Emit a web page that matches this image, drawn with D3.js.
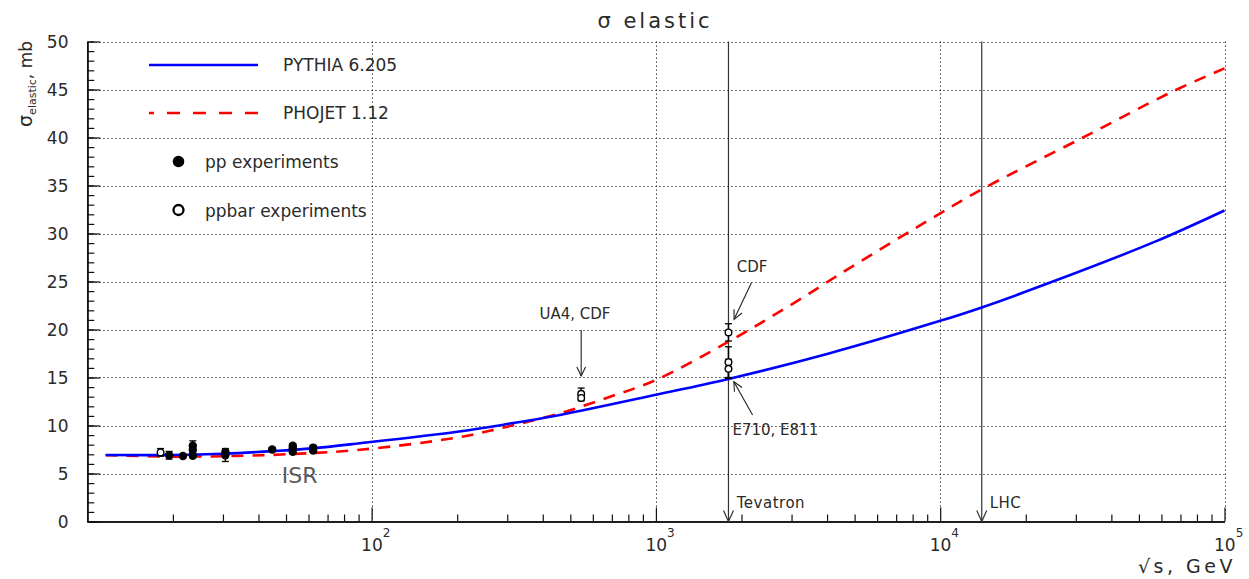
<!DOCTYPE html>
<html>
<head>
<meta charset="utf-8">
<script src="https://cdn.jsdelivr.net/npm/d3@7"></script>
<style>
  html, body { margin: 0; padding: 0; background: #fff; }
  svg { display: block; }
  text { font-family: "DejaVu Sans", sans-serif; fill: #2a2a2a; }
</style>
</head>
<body>
<svg id="chart" width="1249" height="579"></svg>
<script>
// ---------------- data ----------------
const xDomain = [10, 1e5];
const yDomain = [0, 50];
const yMajorTicks = [0, 5, 10, 15, 20, 25, 30, 35, 40, 45, 50];
const xDecades = [100, 1000, 10000, 100000];
const xTickLabels = ["2", "3", "4", "5"]; // exponents of 10

// PYTHIA 6.205 (solid blue)
const pythiaE   = [11.6, 20, 30, 45, 62, 91, 200, 300, 460, 1000, 1800, 4000, 10000, 14000, 26000, 57000, 100000];
const pythiaSig = [6.93, 6.93, 7.06, 7.33, 7.62, 8.15, 9.35, 10.15, 11.1, 13.2, 14.85, 17.45, 20.9, 22.3, 25.2, 29.15, 32.4];

// PHOJET 1.12 (dashed red)
const phojetE   = [11.6, 20, 30, 50, 91, 200, 300, 460, 690, 1000, 1800, 2960, 4800, 10000, 14000, 31800, 65800, 100000];
const phojetSig = [6.9, 6.76, 6.8, 7.0, 7.47, 8.75, 9.88, 11.27, 13.0, 14.74, 18.73, 22.5, 26.4, 32.1, 34.6, 40.0, 44.8, 47.2];

// pp experiments (filled)
const ppE   = [19.4, 21.7, 23.5, 23.5, 23.5, 30.6, 30.6, 44.7, 52.8, 52.8, 52.8, 62.3, 62.3];
const ppSig = [6.9, 6.82, 7.9, 7.45, 6.85, 7.25, 6.9, 7.5, 7.9, 7.6, 7.25, 7.7, 7.4];
const ppErr = [0.4, 0.15, 0.5, 0.3, 0.2, 0.35, 0.65, 0.2, 0.2, 0.2, 0.2, 0.2, 0.2];

// ppbar experiments (open)
const pbE   = [18.1, 546, 546, 1800, 1800, 1800];
const pbSig = [7.2, 13.3, 12.87, 19.7, 16.6, 15.9];
const pbErr = [0.4, 0.6, 0.3, 0.9, 1.6, 1.0];

// collider energies
const colliderNames = ["Tevatron", "LHC"];
const colliderE = [1800, 14000];
const colliderLabelE = [1925, 14930];

// annotations (data coordinates)
const annoText  = ["UA4, CDF", "CDF", "E710, E811"];
const annoTextE = [519, 1925, 1859];
const annoTextS = [21.1, 26.0, 9.0];
const annoTailE = [546, 2168, 2188];
const annoTailS = [19.95, 24.88, 11.09];
const annoTipE  = [546, 1884, 1880];
const annoTipS  = [15.15, 21.06, 14.56];

// ---------------- layout ----------------
const svg = d3.select("#chart");
const L = 87.3, R = 1224.5, T = 41.5, B = 521.5;
const x = d3.scaleLog().domain(xDomain).range([L, R]);
const y = d3.scaleLinear().domain(yDomain).range([B, T]);

// grid
const grid = svg.append("g").attr("stroke", "#222").attr("stroke-width", 1)
  .attr("stroke-dasharray", "1.3,2.7");
yMajorTicks.filter(v => v > 0).forEach(v => {
  grid.append("line").attr("x1", L).attr("x2", R).attr("y1", Math.round(y(v)) + 0.5).attr("y2", Math.round(y(v)) + 0.5);
});
xDecades.forEach(v => {
  grid.append("line").attr("x1", Math.round(x(v)) + 0.5).attr("x2", Math.round(x(v)) + 0.5).attr("y1", T).attr("y2", B);
});

// axes (ticks point inward)
const yMinor = d3.range(0, 51, 1);
const yAxisMinor = d3.axisLeft(y).tickValues(yMinor).tickSize(-7).tickFormat("").tickSizeOuter(0);
const yAxisMajor = d3.axisLeft(y).tickValues(yMajorTicks).tickSize(-13).tickFormat("").tickSizeOuter(0);
svg.append("g").attr("transform", `translate(${L},0)`).call(yAxisMinor);
svg.append("g").attr("transform", `translate(${L},0)`).call(yAxisMajor);

const xMinor = [];
[10, 100, 1000, 10000].forEach(d => { for (let k = 2; k <= 9; k++) xMinor.push(d * k); });
const xAxisMinor = d3.axisBottom(x).tickValues(xMinor).tickSize(-7).tickFormat("").tickSizeOuter(0);
const xAxisMajor = d3.axisBottom(x).tickValues(xDecades).tickSize(-14).tickFormat("").tickSizeOuter(0);
svg.append("g").attr("transform", `translate(0,${B})`).call(xAxisMinor);
svg.append("g").attr("transform", `translate(0,${B})`).call(xAxisMajor);
svg.selectAll(".domain").attr("stroke", "#111").attr("stroke-width", 1.6);
svg.selectAll(".tick line").attr("stroke", "#111").attr("stroke-width", 1.2);

// y tick labels
yMajorTicks.forEach(v => {
  svg.append("text").attr("x", 68.5).attr("y", y(v) + 6.5)
    .attr("text-anchor", "end").attr("font-size", 17).text(v);
});
// x tick labels 10^n
xDecades.forEach((v, i) => {
  const t = svg.append("text").attr("x", x(v) - 10.5).attr("y", 551).attr("font-size", 17);
  t.append("tspan").text("10");
  t.append("tspan").attr("dy", -14).attr("font-size", 12).text(xTickLabels[i]);
});

// title and axis titles
svg.append("text").attr("x", 655).attr("y", 28).attr("text-anchor", "middle")
  .attr("font-size", 21).attr("letter-spacing", 3).text("σ elastic");
svg.append("text").attr("x", 1236).attr("y", 573).attr("text-anchor", "end")
  .attr("font-size", 19).attr("letter-spacing", 3.5).text("√s, GeV");
const yl = svg.append("text").attr("transform", "translate(32,41) rotate(-90)")
  .attr("text-anchor", "end").attr("font-size", 17);
yl.append("tspan").attr("font-size", 19).text("σ");
yl.append("tspan").attr("font-size", 11).attr("dy", 4).text("elastic");
yl.append("tspan").attr("dy", -4).text(", mb");

// collider lines with arrowheads
colliderE.forEach((e, i) => {
  const xx = x(e);
  svg.append("line").attr("x1", xx).attr("x2", xx).attr("y1", T).attr("y2", B)
    .attr("stroke", "#333").attr("stroke-width", 1.2);
  svg.append("path").attr("d", `M${xx - 5},${B - 11}L${xx},${B}L${xx + 5},${B - 11}`)
    .attr("fill", "none").attr("stroke", "#333").attr("stroke-width", 1.2);
  svg.append("text").attr("x", x(colliderLabelE[i])).attr("y", y(1.45)).attr("font-size", 15)
    .attr("letter-spacing", 0.5).text(colliderNames[i]);
});

// ISR label
svg.append("text").attr("x", x(48.3)).attr("y", y(3.98)).attr("font-size", 22)
  .style("fill", "#5a5a5a").text("ISR");

// annotations with arrows
function arrow(x1, y1, x2, y2) {
  svg.append("line").attr("x1", x1).attr("y1", y1).attr("x2", x2).attr("y2", y2)
    .attr("stroke", "#222").attr("stroke-width", 1.1);
  const a = Math.atan2(y2 - y1, x2 - x1), len = 10, sp = 0.45;
  const p1 = [x2 - len * Math.cos(a - sp), y2 - len * Math.sin(a - sp)];
  const p2 = [x2 - len * Math.cos(a + sp), y2 - len * Math.sin(a + sp)];
  svg.append("path").attr("d", `M${p1}L${x2},${y2}L${p2}`).attr("fill", "none")
    .attr("stroke", "#222").attr("stroke-width", 1.1);
}
annoText.forEach((t, i) => {
  svg.append("text").attr("x", x(annoTextE[i])).attr("y", y(annoTextS[i]))
    .attr("font-size", 15).attr("text-anchor", i === 0 ? "middle" : "start").text(t);
  arrow(x(annoTailE[i]), y(annoTailS[i]), x(annoTipE[i]), y(annoTipS[i]));
});

// curves
const line = d3.line().x(d => x(d[0])).y(d => y(d[1])).curve(d3.curveCatmullRom.alpha(0.5));
svg.append("path").datum(phojetE.map((e, i) => [e, phojetSig[i]]))
  .attr("d", line).attr("fill", "none").attr("stroke", "#ff0000")
  .attr("stroke-width", 2.6).attr("stroke-dasharray", "12,9");
svg.append("path").datum(pythiaE.map((e, i) => [e, pythiaSig[i]]))
  .attr("d", line).attr("fill", "none").attr("stroke", "#0000ff").attr("stroke-width", 2.6);

// error bars
function errBar(e, s, err, w) {
  const xx = x(e);
  svg.append("line").attr("x1", xx).attr("x2", xx).attr("y1", y(s - err)).attr("y2", y(s + err))
    .attr("stroke", "#000").attr("stroke-width", 1.5);
  [s - err, s + err].forEach(v => svg.append("line").attr("x1", xx - w).attr("x2", xx + w)
    .attr("y1", y(v)).attr("y2", y(v)).attr("stroke", "#000").attr("stroke-width", 1.3));
}
ppE.forEach((e, i) => errBar(e, ppSig[i], ppErr[i], 3.5));
pbE.forEach((e, i) => errBar(e, pbSig[i], pbErr[i], 3.5));

svg.append("g").selectAll("circle").data(ppE).join("circle")
  .attr("cx", d => x(d)).attr("cy", (d, i) => y(ppSig[i])).attr("r", 4.2).attr("fill", "#000");
svg.append("g").selectAll("circle").data(pbE).join("circle")
  .attr("cx", d => x(d)).attr("cy", (d, i) => y(pbSig[i])).attr("r", 3.3)
  .attr("fill", "#fff").attr("stroke", "#000").attr("stroke-width", 1.4);

// legend
const lg = svg.append("g");
lg.append("line").attr("x1", 149).attr("x2", 258).attr("y1", 65).attr("y2", 65)
  .attr("stroke", "#0000ff").attr("stroke-width", 2.6);
lg.append("line").attr("x1", 149).attr("x2", 258).attr("y1", 113).attr("y2", 113)
  .attr("stroke", "#ff0000").attr("stroke-width", 2.6).attr("stroke-dasharray", "13,13").attr("stroke-dashoffset", 8);
lg.append("text").attr("x", 283).attr("y", 71).attr("font-size", 17).text("PYTHIA 6.205");
lg.append("text").attr("x", 283).attr("y", 119).attr("font-size", 17).text("PHOJET 1.12");
lg.append("circle").attr("cx", 178.5).attr("cy", 161.5).attr("r", 5.8).attr("fill", "#000");
lg.append("circle").attr("cx", 178.5).attr("cy", 210).attr("r", 5).attr("fill", "#fff")
  .attr("stroke", "#000").attr("stroke-width", 2.3);
lg.append("text").attr("x", 205).attr("y", 168).attr("font-size", 17).text("pp experiments");
lg.append("text").attr("x", 205).attr("y", 216.5).attr("font-size", 17).text("ppbar experiments");
</script>
</body>
</html>
